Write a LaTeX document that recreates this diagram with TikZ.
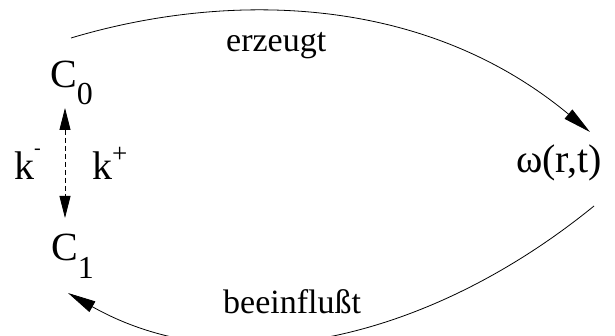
\documentclass[tikz,border=0pt]{standalone}
\usepackage{fontspec}
\setmainfont{Liberation Serif}
\usetikzlibrary{arrows.meta}
\tikzset{
  bigtxt/.style={font=\fontsize{40}{48}\selectfont, inner sep=0pt, anchor=base west},
  lbltxt/.style={font=\fontsize{34}{40}\selectfont, inner sep=0pt, anchor=base west},
  conn/.style={line width=0.8pt, -{Triangle[length=28pt,width=12pt]}},
  rate/.style={line width=0.8pt, dash pattern=on 5pt off 3pt, {Triangle[length=22pt,width=11pt]}-{Triangle[length=22pt,width=11pt]}}
}
\begin{document}
\begin{tikzpicture}[x=1pt,y=-1pt]
\useasboundingbox (0,0) rectangle (615,336);
% nodes
\node[bigtxt] (c0) at (50,88) {C\raisebox{-17pt}{\fontsize{32}{38}\selectfont 0}};
\node[bigtxt] (c1) at (51,261) {C\raisebox{-18pt}{\fontsize{32}{38}\selectfont 1}};
\node[bigtxt] (km) at (14,180) {k\raisebox{25pt}{\fontsize{20}{24}\selectfont -}};
\node[bigtxt] (kp) at (92,180) {k\raisebox{17pt}{\fontsize{27}{32}\selectfont +}};
\node[bigtxt] (om) at (516,173) {ω(r,t)};
\node[lbltxt] (lerz) at (226,52) {erzeugt};
\node[lbltxt] (lbee) at (223,313) {beeinflußt};
% connector end points
\coordinate (c0out) at (71,38);
\coordinate (omin) at (590,132);
\coordinate (omout) at (594,206);
\coordinate (c1in) at (68,293);
\coordinate (c0r) at (65,108);
\coordinate (c1r) at (65,218);
% connectors
\draw[conn] (c0out) .. controls (221,-7) and (420,-9) .. (omin);
\draw[conn] (omout) .. controls (432,338) and (233,386) .. (c1in);
\draw[rate] (c0r) -- (c1r);
\end{tikzpicture}
\end{document}
